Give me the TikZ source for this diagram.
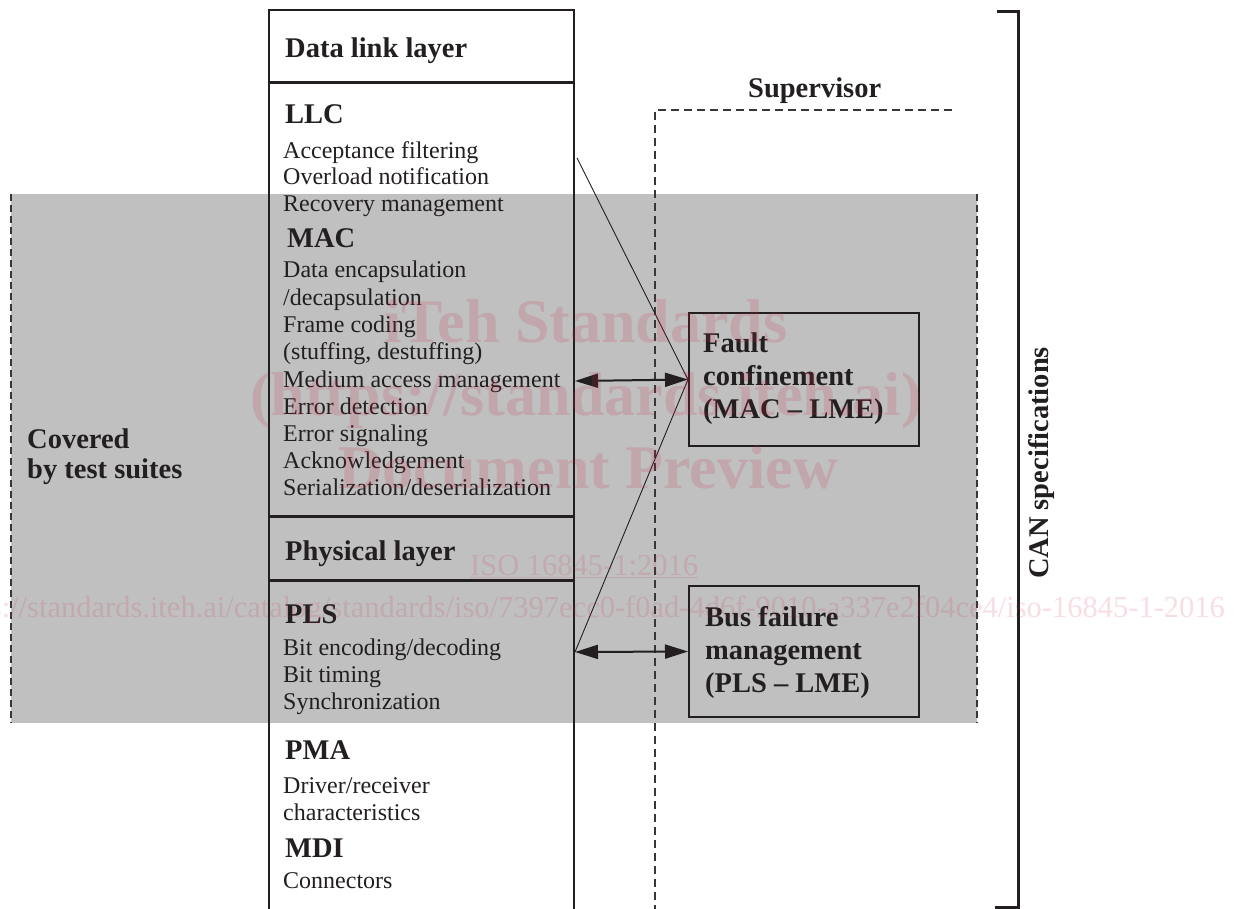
\documentclass[tikz,border=0pt]{standalone}
\usepackage{fontspec}
\setmainfont{Liberation Serif}
\usetikzlibrary{arrows.meta}
\definecolor{ink}{RGB}{35,31,32}
\definecolor{greyfill}{RGB}{192,192,192}
\definecolor{dashgrey}{RGB}{55,55,55}
\definecolor{wm}{RGB}{200,40,70}
\begin{document}
\begin{tikzpicture}[x=1bp,y=-1bp,
  reg/.style={anchor=base west, inner sep=0pt, text=ink, font=\fontsize{24bp}{27bp}\selectfont},
  hd/.style={anchor=base west, inner sep=0pt, text=ink, font=\fontsize{28.5bp}{33bp}\selectfont\bfseries},
  framebox/.style={draw=ink, line width=2bp, minimum width=230bp, inner sep=0pt},
  dblarrow/.style={draw=ink, line width=2bp, {Triangle[length=23bp,width=14bp]}-{Triangle[length=23bp,width=14bp]}},
  thinline/.style={draw=ink, line width=0.9bp},
  sidedash/.style={draw=dashgrey, line width=1.6bp, dash pattern=on 7bp off 4bp},
  supdash/.style={draw=dashgrey, line width=1.6bp, dash pattern=on 8bp off 5bp},
  wmbig/.style={anchor=base, inner sep=0pt, text=wm, text opacity=0.17, font=\fontsize{62bp}{70bp}\selectfont\bfseries},
  wmsmall/.style={inner sep=0pt, text=wm, text opacity=0.15, font=\fontsize{30.5bp}{34bp}\selectfont}
]
\clip (0,0) rectangle (1248,909);
\fill[white] (0,0) rectangle (1248,909);

% covered-by-test-suites area
\fill[greyfill] (11,194) rectangle (977,723);
\draw[sidedash] (11,194) -- (11,723);
\draw[sidedash] (977,194) -- (977,723);

% main column
\draw[ink, line width=1.8bp] (269,909) -- (269,10) -- (574,10) -- (574,909);
\draw[ink, line width=3bp] (269,82) -- (574,82);
\draw[ink, line width=3bp] (269,516) -- (574,516);
\draw[ink, line width=3bp] (269,580) -- (574,580);

% supervisor
\draw[supdash] (952,110) -- (655,110) -- (655,909);
\node[hd] (sup) at (748,97) {Supervisor};

% CAN bracket
\draw[ink, line width=3bp] (997,11) -- (1018,11) -- (1018,907) -- (995,907);
\node[hd, anchor=center, rotate=90] (can) at (1041,463) {CAN specifications};

% left column texts
\node[hd] (dll) at (285,57) {Data link layer};
\node[hd] (llc) at (285,123) {LLC};
\node[reg] (l1) at (283,158) {Acceptance filtering};
\node[reg] (l2) at (283,184) {Overload notification};
\node[reg] (l3) at (283,211) {Recovery management};
\node[hd] (mac) at (287,247) {MAC};
\node[reg] (m1) at (283,277) {Data encapsulation};
\node[reg] (m2) at (283,305) {/decapsulation};
\node[reg] (m3) at (283,332) {Frame coding};
\node[reg] (m4) at (283,359) {(stuffing, destuffing)};
\node[reg] (m5) at (283,387) {Medium access management};
\node[reg] (m6) at (283,414) {Error detection};
\node[reg] (m7) at (283,441) {Error signaling};
\node[reg] (m8) at (283,468) {Acknowledgement};
\node[reg] (m9) at (283,495) {Serialization/deserialization};
\node[hd] (phy) at (285,560) {Physical layer};
\node[hd] (pls) at (285,623) {PLS};
\node[reg] (p1) at (283,655) {Bit encoding/decoding};
\node[reg] (p2) at (283,682) {Bit timing};
\node[reg] (p3) at (283,709) {Synchronization};
\node[hd] (pma) at (285,759) {PMA};
\node[reg] (a1) at (283,793) {Driver/receiver};
\node[reg] (a2) at (283,820) {characteristics};
\node[hd] (mdi) at (285,857) {MDI};
\node[reg] (c1) at (283,888) {Connectors};

\node[hd] (cov1) at (27,448) {Covered};
\node[hd] (cov2) at (27,478) {by test suites};

% LME boxes
\node[framebox, minimum height=133bp] (fault) at (804,379.5) {};
\node[hd] (f1) at (703,352) {Fault};
\node[hd] (f2) at (703,385) {confinement};
\node[hd] (f3) at (703,418) {(MAC – LME)};

\node[framebox, minimum height=131bp] (bus) at (804,651.5) {};
\node[hd] (b1) at (705,626) {Bus failure};
\node[hd] (b2) at (705,659) {management};
\node[hd] (b3) at (705,692) {(PLS – LME)};

% connectors
\coordinate (llcR) at (577,158);
\coordinate (macR) at (575,381);
\coordinate (plsR) at (575,652);
\draw[thinline] (llcR) -- (fault.west);
\draw[thinline] (plsR) -- (fault.west);
\draw[dblarrow] (macR) -- (fault.west);
\draw[dblarrow] (plsR) -- (bus.west);

% watermark
\node[wmbig] (wm1) at (586,342) {iTeh Standards};
\node[wmbig] (wm2) at (586,415) {(https://standards.iteh.ai)};
\node[wmbig] (wm3) at (588,488) {Document Preview};
\node[wmsmall, anchor=base west] (wm4) at (470,575) {\underline{ISO 16845-1:2016}};
\node[wmsmall, anchor=base east] (wm5) at (1225,617) {https://standards.iteh.ai/catalog/standards/iso/7397ecc0-f0ad-4d6f-9010-a337e2f04ce4/iso-16845-1-2016};
\end{tikzpicture}
\end{document}
